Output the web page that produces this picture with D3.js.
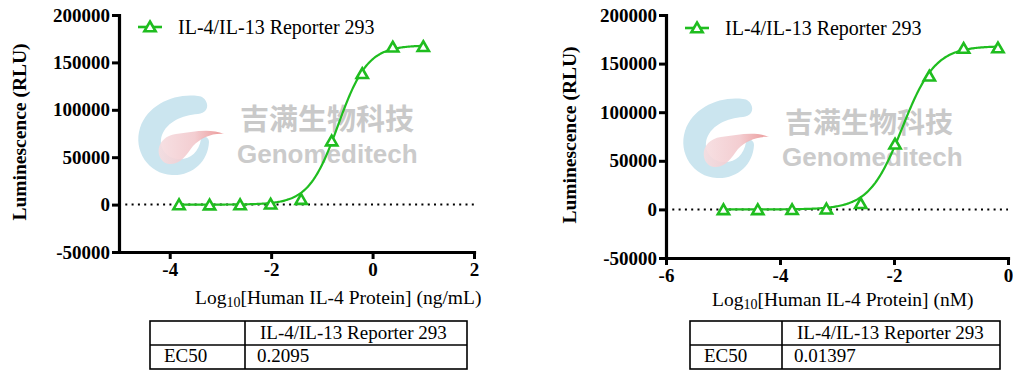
<!DOCTYPE html>
<html><head><meta charset="utf-8">
<script src="https://cdn.jsdelivr.net/npm/d3@7"></script>
<style>body{margin:0;background:#fff}svg{display:block}</style>
</head><body>
<svg id="c" width="1013" height="372"></svg>
<script>
// ---------- data ----------
const seriesName = "IL-4/IL-13 Reporter 293";
const yTickValues = [-50000, 0, 50000, 100000, 150000, 200000];
const leftXTicks = [-4, -2, 0, 2];
const rightXTicks = [-6, -4, -2, 0];
const leftLogConc = [-3.816, -3.214, -2.612, -2.010, -1.408, -0.806, -0.204, 0.398, 1.000];
const leftRLU = [-400, -500, -400, 300, 5300, 67000, 138000, 166000, 166500];
const rightLogConc = [-4.992, -4.390, -3.788, -3.186, -2.584, -1.982, -1.380, -0.778, -0.176];
const rightRLU = [-500, -500, -400, 200, 5800, 67000, 137000, 165500, 166000];
const ec50Left = 0.2095;   // ng/mL
const ec50Right = 0.01397; // nM
const ec50LeftLabel = "0.2095";
const ec50RightLabel = "0.01397";
const fitTop = 168000, fitBottom = 0, fitHill = 1.5;
const leftXTitle = "[Human IL-4 Protein] (ng/mL)";
const rightXTitle = "[Human IL-4 Protein] (nM)";
const yTitle = "Luminescence (RLU)";
const rowLabel = "EC50";
const watermarkCN = "吉满生物科技";
const watermarkEN = "Genomeditech";

// ---------- drawing ----------
const svg = d3.select("#c");
const GREEN = "#1fbd1f";
const SERIF = "'Liberation Serif','Times New Roman',serif";

const defs = svg.append("defs");
const grad = defs.append("linearGradient").attr("id", "pk").attr("x1", "0").attr("x2", "1").attr("y1", "0").attr("y2", "0");
grad.append("stop").attr("offset", "0").attr("stop-color", "#f6dde0");
grad.append("stop").attr("offset", "0.55").attr("stop-color", "#f2c8cc");
grad.append("stop").attr("offset", "1").attr("stop-color", "#e98c8c");

function logo(g) {
  g.append("path")
    .attr("d", "M68,4 C45,1 18,12 10,36 C3,58 18,82 42,83 C62,84 78,70 79,50 C79,45 73,43 71,47 C69,60 60,68 48,67 C35,66 28,54 32,43 C37,30 52,23 68,22 C75,21 78,17 77,12 C76,7 72,4 68,4 Z")
    .attr("fill", "#cbe5ef");
  g.append("path")
    .attr("d", "M31,67 C25,57 31,44 46,42 C62,40 80,36 94,42 C82,41 71,46 63,54 C57,62 51,72 41,72 C36,72 33,70 31,67 Z")
    .attr("fill", "url(#pk)").attr("opacity", 0.9);
}

function panel(o) {
  const x = d3.scaleLinear().domain(o.xDomain).range(o.xRange);
  const y = d3.scaleLinear().domain([-50000, 200000]).range(o.yRange);
  const g = svg.append("g");

  // watermark
  const wm = g.append("g");
  logo(wm.append("g").attr("transform", `translate(${o.wm[0]},${o.wm[1]})`));
  wm.append("text").attr("x", o.wm[0] + 110).attr("y", o.wm[1] + 38)
    .attr("font-family", "'Noto Sans CJK SC',sans-serif").attr("font-weight", 700)
    .attr("font-size", o.wmSize).attr("fill", "#c9c9c9").text(watermarkCN);
  wm.append("text").attr("x", o.wm[0] + 107).attr("y", o.wm[1] + 71)
    .attr("font-family", "'Liberation Sans',Arial,sans-serif").attr("font-weight", 700)
    .attr("font-size", 26).attr("fill", "#cbcbcb").text(watermarkEN);

  // zero dotted line
  g.append("line").attr("x1", o.xRange[0]).attr("x2", o.xRange[1])
    .attr("y1", y(0)).attr("y2", y(0))
    .attr("stroke", "#000").attr("stroke-width", 2).attr("stroke-dasharray", "2,4.3");

  // fitted curve (4PL using EC50)
  const logEC = Math.log10(o.ec50);
  const xs = o.xs;
  const cx = d3.range(xs[0], xs[xs.length - 1] + 1e-9, 0.02);
  cx.push(xs[xs.length - 1]);
  const fit = v => fitBottom + (fitTop - fitBottom) / (1 + Math.pow(10, (logEC - v) * fitHill));
  g.append("path").datum(cx)
    .attr("d", d3.line().x(d => x(d)).y(d => y(fit(d))))
    .attr("fill", "none").attr("stroke", GREEN).attr("stroke-width", 2.2);

  // points
  const tri = d3.symbol().type(d3.symbolTriangle).size(55);
  g.selectAll(null).data(xs.map((v, i) => [v, o.ys[i]])).join("path")
    .attr("d", tri).attr("transform", d => `translate(${x(d[0])},${y(d[1]) + 1})`)
    .attr("fill", "#fff").attr("stroke", GREEN).attr("stroke-width", 2.6);

  // axes
  const fmt = d => String(d);
  const ya = g.append("g").attr("transform", `translate(${o.xRange[0]},0)`)
    .call(d3.axisLeft(y).tickValues(yTickValues).tickFormat(fmt).tickSize(7).tickSizeOuter(0).tickPadding(2));
  const xa = g.append("g").attr("transform", `translate(0,${o.yRange[0]})`)
    .call(d3.axisBottom(x).tickValues(o.xTicks).tickFormat(fmt).tickSize(7).tickSizeOuter(0).tickPadding(4));
  [ya, xa].forEach(a => {
    a.select(".domain").attr("stroke-width", 3.2).attr("stroke-linecap", "square");
    a.selectAll(".tick line").attr("stroke-width", 3);
    a.selectAll(".tick text").attr("font-family", SERIF).attr("font-weight", 700)
      .attr("font-size", 19).attr("fill", "#000");
  });

  // axis titles
  g.append("text").attr("transform", `translate(${o.yTitle[0]},${o.yTitle[1]}) rotate(-90)`)
    .attr("text-anchor", "middle").attr("font-family", SERIF).attr("font-weight", 700)
    .attr("font-size", 19.5).text(yTitle);
  const xt = g.append("text").attr("x", o.xTitle[0]).attr("y", o.xTitle[1])
    .attr("font-family", SERIF).attr("font-size", 19.5);
  xt.append("tspan").text("Log");
  xt.append("tspan").attr("font-size", 14).attr("dy", 3).text("10");
  xt.append("tspan").attr("dy", -3).text(o.xTitleText);

  // legend
  const lg = g.append("g").attr("transform", `translate(${o.legend[0]},${o.legend[1]})`);
  lg.append("line").attr("x1", 0).attr("x2", 24).attr("stroke", GREEN).attr("stroke-width", 2.6);
  lg.append("path").attr("d", tri).attr("transform", "translate(12,1)")
    .attr("fill", "#fff").attr("stroke", GREEN).attr("stroke-width", 2.6);
  lg.append("text").attr("x", 40).attr("y", 6.5).attr("font-family", SERIF)
    .attr("font-size", 20).text(seriesName);

  // table
  const t = o.table; // [x0, colX, x1, y0, yMid, y1]
  const tg = g.append("g").attr("fill", "none").attr("stroke", "#000").attr("stroke-width", 1.6);
  tg.append("rect").attr("x", t[0]).attr("y", t[3]).attr("width", t[2] - t[0]).attr("height", t[5] - t[3]);
  tg.append("line").attr("x1", t[0]).attr("x2", t[2]).attr("y1", t[4]).attr("y2", t[4]);
  tg.append("line").attr("x1", t[1]).attr("x2", t[1]).attr("y1", t[3]).attr("y2", t[5]);
  const txt = (tx, ty, s) => g.append("text").attr("x", tx).attr("y", ty)
    .attr("font-family", SERIF).attr("font-size", 19).text(s);
  txt(t[1] + 15, t[4] - 6, seriesName);
  txt(t[0] + 14, t[5] - 7, rowLabel);
  txt(t[1] + 12, t[5] - 7, o.ec50Label);
}

panel({
  xDomain: [-5, 2], xRange: [119, 474], yRange: [252, 15], xTicks: leftXTicks,
  xs: leftLogConc, ys: leftRLU, ec50: ec50Left, ec50Label: ec50LeftLabel,
  xTitle: [195, 304], xTitleText: leftXTitle, yTitle: [26, 132],
  legend: [138, 27], table: [150, 245, 467, 321, 345, 369], wm: [130, 92], wmSize: 29
});
panel({
  xDomain: [-6, 0], xRange: [666, 1008], yRange: [258, 15], xTicks: rightXTicks,
  xs: rightLogConc, ys: rightRLU, ec50: ec50Right, ec50Label: ec50RightLabel,
  xTitle: [712, 306], xTitleText: rightXTitle, yTitle: [576, 135],
  legend: [685, 28], table: [690, 782, 1000, 321, 345, 369], wm: [675, 95], wmSize: 28
});
</script>
</body></html>
